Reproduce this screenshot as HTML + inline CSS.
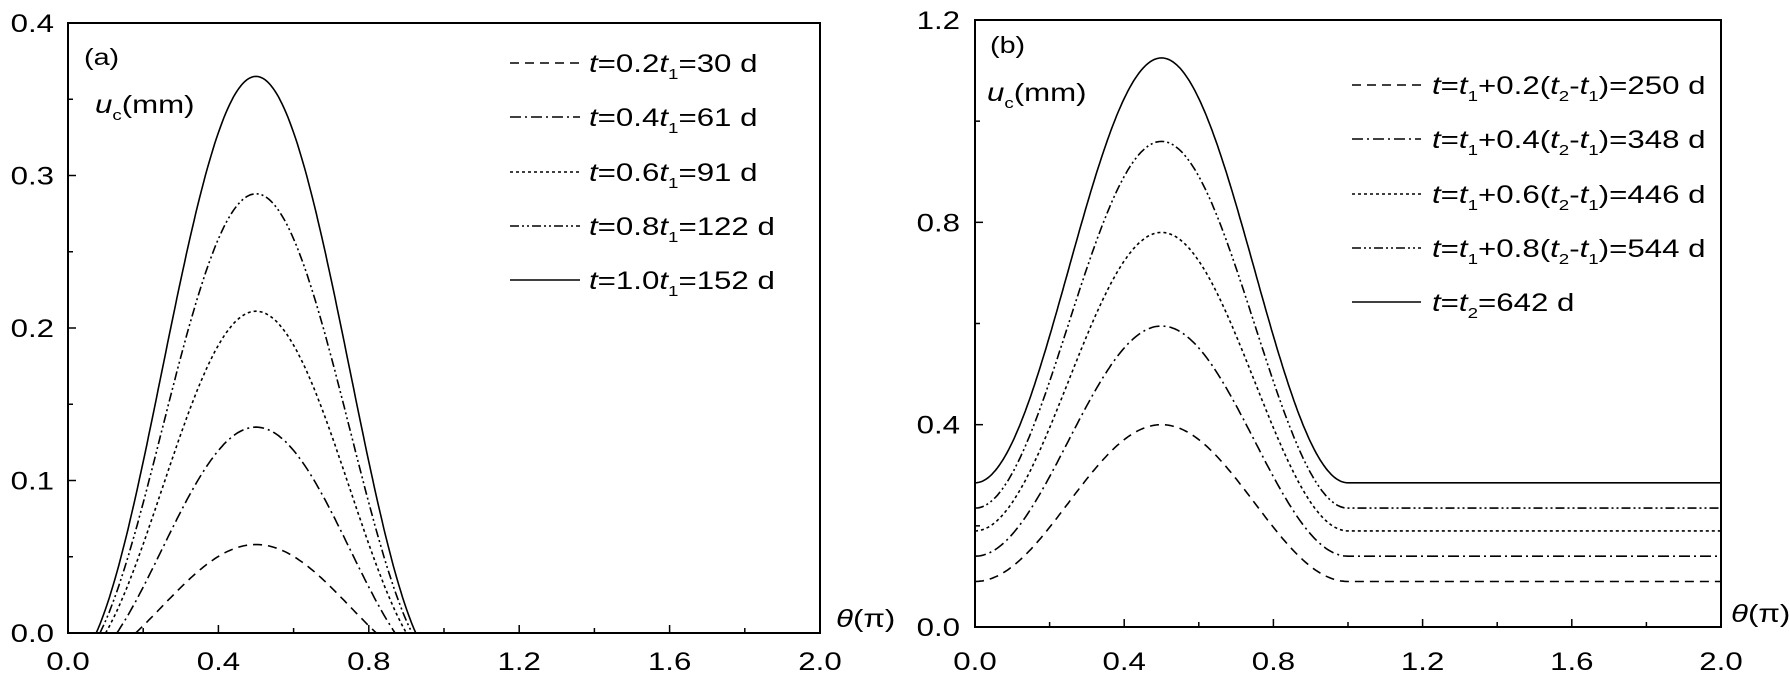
<!DOCTYPE html>
<html><head><meta charset="utf-8"><style>
body{margin:0;background:#fff}
svg{display:block}
text{font-family:"Liberation Sans",sans-serif;fill:#000}
</style></head><body>
<svg id="s" width="1790" height="678" viewBox="0 0 1790 678" xmlns="http://www.w3.org/2000/svg">
<g id="g" fill="none" stroke="#000" stroke-width="1.6"></g>
<g id="tx"></g>
</svg>
<script>
var NS='http://www.w3.org/2000/svg';
var g=document.getElementById('g'),tx=document.getElementById('tx');
function P(d,dash,w){var p=document.createElementNS(NS,'path');p.setAttribute('d',d);if(dash)p.setAttribute('stroke-dasharray',dash);if(w)p.setAttribute('stroke-width',w);g.appendChild(p);}
function T(x,y,html,size,anchor,fam){var t=document.createElementNS(NS,'text');t.setAttribute('transform','translate('+x+' '+y+') scale(1.25 1)');t.setAttribute('font-size',size);if(anchor)t.setAttribute('text-anchor',anchor);if(fam)t.setAttribute('font-family',fam);t.innerHTML=html;tx.appendChild(t);}
var dashes=['9,6','11,4,2,4','3,3','9,3,2,3,2,3',null];
var L={x0:68,x1:820,y0:633,y1:23};
var R={x0:975,x1:1721,y0:627,y1:20};
[L,R].forEach(function(A){P('M'+A.x0+' '+A.y1+'H'+A.x1+'V'+A.y0+'H'+A.x0+'Z',null,2);
 for(var i=1;i<10;i++){var x=A.x0+(A.x1-A.x0)*i/10;P('M'+x+' '+A.y0+'v'+(i%2?-5:-8),null,1.5);}
 var lab=['0.0','0.4','0.8','1.2','1.6','2.0'];
 for(var i=0;i<6;i++)T(A.x0+(A.x1-A.x0)*i/5,670,lab[i],25,'middle');
});
for(var i=1;i<8;i++){var y=L.y0-(L.y0-L.y1)*i/8;P('M'+L.x0+' '+y+'h'+(i%2?5:8),null,1.5);}
for(var i=1;i<6;i++){var y=R.y0-(R.y0-R.y1)*i/6;P('M'+R.x0+' '+y+'h'+(i%2?5:8),null,1.5);}
['0.0','0.1','0.2','0.3','0.4'].forEach(function(s,i){T(54,L.y0-(L.y0-L.y1)*i/4+9,s,25,'end');});
['0.0','0.4','0.8','1.2'].forEach(function(s,i){T(960,R.y0-(R.y0-R.y1)*i/3+9,s,25,'end');});
T(836,627,'<tspan font-style="italic">θ</tspan>(π)',25,null,'Liberation Serif');
T(1731,622,'<tspan font-style="italic">θ</tspan>(π)',25,null,'Liberation Serif');
T(84,65,'(a)',23);
T(95,113,'<tspan font-style="italic">u</tspan><tspan font-size="15" dy="7">c</tspan><tspan dy="-7">(mm)</tspan>',25);
T(990,53,'(b)',23);
T(987,101,'<tspan font-style="italic">u</tspan><tspan font-size="15" dy="7">c</tspan><tspan dy="-7">(mm)</tspan>',25);
var pk=[0.058,0.135,0.211,0.288,0.365],z0=[0.18,0.13,0.10,0.085,0.075];
for(var k=0;k<5;k++){var s0=Math.pow(Math.sin(Math.PI*z0[k]),2),d=pk[k]/(1-s0),c=-d*s0,pts=[];
 for(var t=z0[k];t<=1-z0[k]+1e-9;t+=0.005){var u=Math.max(0,c+d*Math.pow(Math.sin(Math.PI*t),2));
  pts.push((L.x0+t/2*(L.x1-L.x0)).toFixed(1)+' '+(L.y0-u/0.4*(L.y0-L.y1)).toFixed(1));}
 P('M'+pts.join('L'),dashes[k]);}
var pk2=[0.40,0.595,0.78,0.96,1.125],b2=[0.09,0.14,0.19,0.235,0.285];
for(var k=0;k<5;k++){var pts=[];
 for(var t=0;t<=2.0001;t+=0.005){var u=b2[k]+(t<1?(pk2[k]-b2[k])*Math.pow(Math.sin(Math.PI*t),2):0);
  pts.push((R.x0+t/2*(R.x1-R.x0)).toFixed(1)+' '+(R.y0-u/1.2*(R.y0-R.y1)).toFixed(1));}
 P('M'+pts.join('L'),dashes[k]);}
var ly=[63,117,172,226,280],lt=['0.2','0.4','0.6','0.8','1.0'],ld=['30','61','91','122','152'];
var ry=[85,139,194,248,302],rt=['0.2','0.4','0.6','0.8'],rd=['250','348','446','544'];
var it=function(s){return '<tspan font-style="italic">'+s+'</tspan>';};
var sub=function(s){return '<tspan font-size="15" dy="7">'+s+'</tspan><tspan dy="-7">';};
for(var k=0;k<5;k++){P('M510 '+ly[k]+'H580',dashes[k]);
 T(589,ly[k]+9,it('t')+'='+lt[k]+it('t')+sub('1')+'='+ld[k]+' d</tspan>',25);
 P('M1352 '+ry[k]+'H1421',dashes[k]);
 if(k<4)T(1432,ry[k]+9,it('t')+'='+it('t')+sub('1')+'+'+rt[k]+'(</tspan>'+it('t')+sub('2')+'-</tspan>'+it('t')+sub('1')+')='+rd[k]+' d</tspan>',25);
 else T(1432,ry[k]+9,it('t')+'='+it('t')+sub('2')+'=642 d</tspan>',25);
}
</script>
</body></html>
